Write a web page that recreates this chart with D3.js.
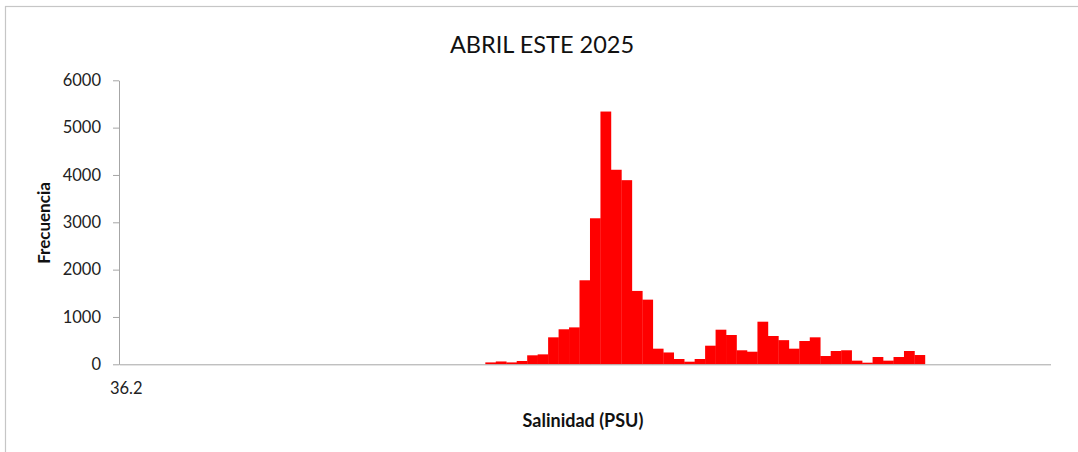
<!DOCTYPE html>
<html>
<head>
<meta charset="utf-8">
<script src="https://cdn.jsdelivr.net/npm/d3@7"></script>
<style>
  body { margin: 0; background: #fff; }
  svg { display: block; font-family: Lato, "Open Sans", sans-serif; }
</style>
</head>
<body>
<div id="chart"></div>
<script>
// Data
const title = "ABRIL ESTE 2025";
const xTitle = "Salinidad (PSU)";
const yTitle = "Frecuencia";
const xTickLabels = ["36.2"];
const yTicks = [0, 1000, 2000, 3000, 4000, 5000, 6000];

// frequency per salinity bin (89 bins, first bin is 36.2)
const frequencies = [
  0, 0, 0, 0, 0, 0, 0, 0, 0, 0,
  0, 0, 0, 0, 0, 0, 0, 0, 0, 0,
  0, 0, 0, 0, 0, 0, 0, 0, 0, 0,
  0, 0, 0, 0, 0, 40, 60, 40, 70, 190,
  210, 570, 740, 780, 1775, 3085, 5340, 4110, 3890, 1550,
  1366, 330, 250, 112, 55, 112, 393, 731, 619, 296,
  266, 900, 598, 510, 330, 492, 570, 175, 281, 296,
  77, 34, 154, 77, 154, 281, 196, 0, 0, 0,
  0, 0, 0, 0, 0, 0, 0, 0, 0
];

const width = 1078;
const height = 452;
const plot = { left: 119, right: 1050.5, top: 80.3, bottom: 364.3 };

const svg = d3.select("#chart")
  .append("svg")
  .attr("width", width)
  .attr("height", height);

// chart frame
svg.append("rect")
  .attr("x", 5.5)
  .attr("y", 6.5)
  .attr("width", width)
  .attr("height", height)
  .attr("fill", "none")
  .attr("stroke", "#c6c6c6")
  .attr("stroke-width", 1.2);

// Scales
const x = d3.scaleBand()
  .domain(d3.range(frequencies.length))
  .range([plot.left, plot.right])
  .paddingInner(0)
  .paddingOuter(0);

const y = d3.scaleLinear()
  .domain([0, 6000])
  .range([plot.bottom, plot.top]);

// Bars
svg.append("g")
  .selectAll("rect")
  .data(frequencies)
  .enter()
  .append("rect")
  .attr("x", (d, i) => x(i))
  .attr("y", d => y(d))
  .attr("width", x.bandwidth() + 0.3)
  .attr("height", d => y(0) - y(d))
  .attr("fill", "#ff0000");

// Y axis
const yAxis = svg.append("g")
  .attr("transform", `translate(${plot.left},0)`)
  .call(d3.axisLeft(y)
    .tickValues(yTicks)
    .tickFormat(d3.format("d"))
    .tickSize(6)
    .tickPadding(12)
    .tickSizeOuter(0));
yAxis.select(".domain").attr("stroke", "#a6a6a6");
yAxis.selectAll(".tick line").attr("stroke", "#a6a6a6");
yAxis.selectAll(".tick text")
  .attr("font-size", 16.5)
  .attr("font-family", "Lato, sans-serif")
  .attr("fill", "#222");

// X axis (only the first category is labelled)
const xAxis = svg.append("g")
  .attr("transform", `translate(0,${plot.bottom})`)
  .call(d3.axisBottom(x)
    .tickValues([0])
    .tickFormat((d, i) => xTickLabels[i])
    .tickSize(0)
    .tickPadding(18)
    .tickSizeOuter(0));
xAxis.select(".domain").attr("stroke", "#a6a6a6");
xAxis.selectAll(".tick text")
  .attr("font-size", 16.5)
  .attr("font-family", "Lato, sans-serif")
  .attr("fill", "#222")
  .attr("dx", 2);

// Titles
svg.append("text")
  .attr("x", 542)
  .attr("y", 53)
  .attr("text-anchor", "middle")
  .attr("font-size", 23.5)
  .attr("fill", "#111")
  .text(title);

svg.append("text")
  .attr("x", 583)
  .attr("y", 427)
  .attr("text-anchor", "middle")
  .attr("font-size", 18)
  .attr("font-weight", "bold")
  .attr("fill", "#111")
  .text(xTitle);

svg.append("text")
  .attr("transform", "translate(50,223) rotate(-90)")
  .attr("text-anchor", "middle")
  .attr("font-size", 17)
  .attr("font-weight", "bold")
  .attr("fill", "#111")
  .text(yTitle);
</script>
</body>
</html>
